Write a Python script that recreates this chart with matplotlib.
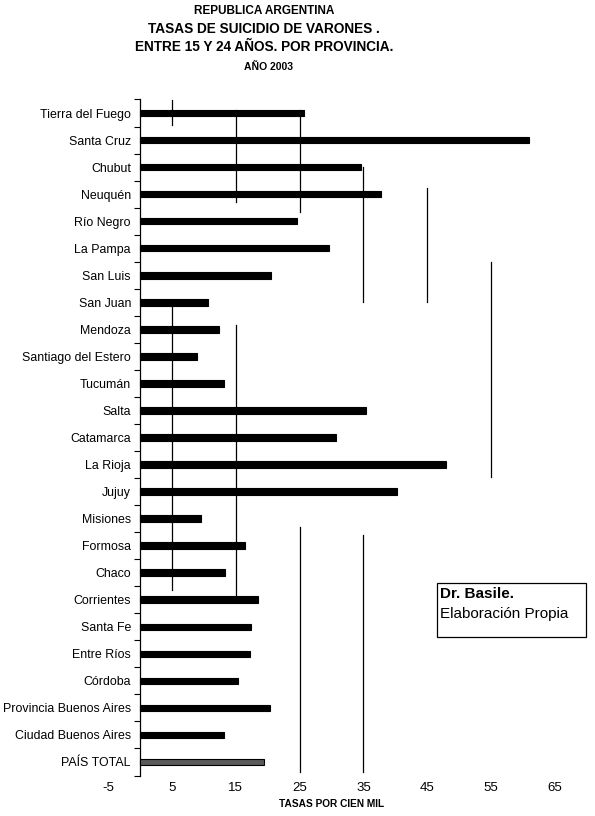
import matplotlib
matplotlib.use("Agg")
import matplotlib.pyplot as plt
from matplotlib.patches import Rectangle
import numpy as np

plt.rcParams['font.family'] = ['Liberation Sans', 'DejaVu Sans']

provincias = ["Tierra del Fuego", "Santa Cruz", "Chubut", "Neuquén", "Río Negro",
              "La Pampa", "San Luis", "San Juan", "Mendoza", "Santiago del Estero",
              "Tucumán", "Salta", "Catamarca", "La Rioja", "Jujuy", "Misiones",
              "Formosa", "Chaco", "Corrientes", "Santa Fe", "Entre Ríos", "Córdoba",
              "Provincia Buenos Aires", "Ciudad Buenos Aires", "PAÍS TOTAL"]
tasas = [25.7, 61.0, 34.6, 37.7, 24.6,
         29.6, 20.5, 10.7, 12.4, 8.9,
         13.2, 35.4, 30.7, 47.9, 40.3, 9.6,
         16.5, 13.4, 18.5, 17.4, 17.25, 15.3,
         20.3, 13.2, 19.5]
xticks = [-5, 5, 15, 25, 35, 45, 55, 65]

fig = plt.figure(figsize=(5.95, 8.16), dpi=100)
ax = fig.add_axes([108/595, 1-775.5/816, (555-108)/595, (775.5-99.5)/816])

n = len(provincias)
y = np.arange(n)
colors = ['black'] * (n - 1) + ['#5a5a5a']
ax.barh(y, tasas, height=0.24, color=colors, edgecolor='black', linewidth=0.8, zorder=3)

ax.set_xlim(-5, 65)
ax.set_ylim(n - 0.5, -0.5)

# partially visible gridlines (scanned look)
def pix2idx(py):
    return (py - 113) / 27.04
segs = [(5, 100, 125), (5, 305, 590),
        (15, 110, 202), (15, 325, 598),
        (25, 110, 212), (25, 527, 772),
        (35, 167, 302), (35, 535, 772),
        (45, 188, 302),
        (55, 262, 477)]
for gx, p0, p1 in segs:
    ax.plot([gx, gx], [pix2idx(p0), pix2idx(p1)], color='black', linewidth=0.9, zorder=2)

ax.set_xticks(xticks)
ax.set_xticklabels([str(t) for t in xticks])
ax.set_yticks(y)
ax.set_yticklabels(provincias)
ax.set_yticks(np.arange(-0.5, n, 1), minor=True)
ax.tick_params(axis='x', length=0, pad=5, labelsize=9.5)
ax.tick_params(axis='y', which='major', length=0, pad=6.5, labelsize=8.9)
ax.tick_params(axis='y', which='minor', length=4, width=0.8, direction='out')

for s in ['top', 'right', 'bottom']:
    ax.spines[s].set_visible(False)
ax.spines['left'].set_position(('data', 0))
ax.spines['left'].set_linewidth(0.9)

ax.set_xlabel("TASAS POR CIEN MIL", fontsize=7.3, fontweight='bold', labelpad=3)

cx = 264 / 595
fig.text(cx, 1-11/816, "REPUBLICA ARGENTINA", ha='center', va='center', fontsize=8.5, fontweight='bold')
fig.text(cx, 1-29/816, "TASAS DE SUICIDIO DE VARONES .", ha='center', va='center', fontsize=9.8, fontweight='bold')
fig.text(cx, 1-47/816, "ENTRE 15 Y 24 AÑOS. POR PROVINCIA.", ha='center', va='center', fontsize=9.8, fontweight='bold')
fig.text(269/595, 1-67/816, "AÑO 2003", ha='center', va='center', fontsize=7.5, fontweight='bold')

fig.patches.append(Rectangle((437/595, 1-636.7/816), 149/595, 54/816,
                             transform=fig.transFigure, fill=False,
                             edgecolor='black', linewidth=0.9))
fig.text(440/595, 1-594/816, "Dr. Basile.", ha='left', va='center', fontsize=11, fontweight='bold')
fig.text(440/595, 1-614/816, "Elaboración Propia", ha='left', va='center', fontsize=11)

fig.savefig("out.png", dpi=100, facecolor='white')
